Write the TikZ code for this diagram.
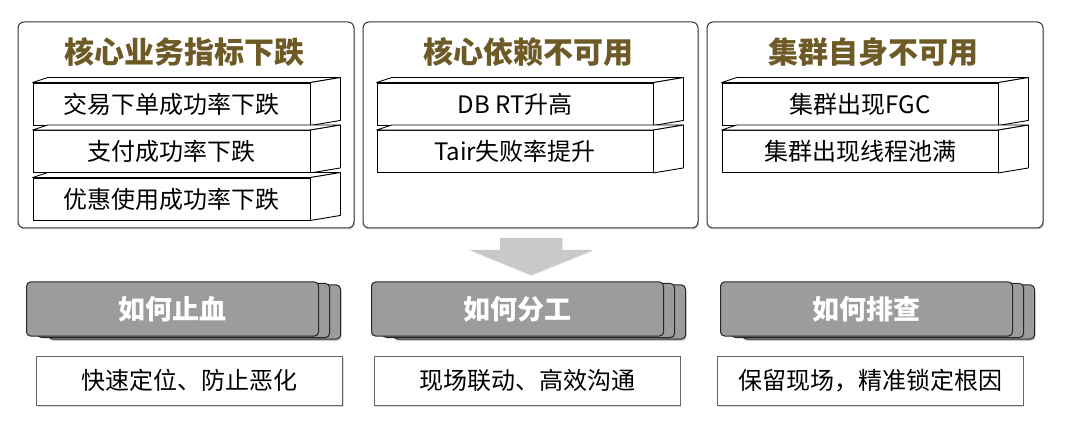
\documentclass[tikz,border=0pt]{standalone}
\usepackage{fontspec}
\setmainfont{Noto Sans CJK SC}
\usetikzlibrary{shadows}
\definecolor{titlebrown}{HTML}{6E5A26}
\definecolor{stackgray}{HTML}{9C9C9C}
\definecolor{arrowgray}{HTML}{C9C9C9}

\begin{document}
\begin{tikzpicture}[x=1pt,y=-1pt,
  panel/.style={draw=black!80,line width=1pt,rounded corners=6pt,fill=white,minimum width=336pt,minimum height=206pt,
    drop shadow={shadow xshift=1pt,shadow yshift=-1.5pt,opacity=0.3}},
  paneltitle/.style={font=\bfseries\fontsize{30}{32}\selectfont,text=titlebrown},
  slab/.style={draw=black,line width=0.9pt,fill=white,minimum width=277pt,minimum height=42pt,inner sep=0pt,
    font=\fontsize{24}{26}\selectfont},
  slabside/.style={draw=black,line width=0.9pt,fill=white,line join=round},
  stack/.style={draw=black!85,line width=1pt,rounded corners=4pt,fill=stackgray,minimum width=292pt,minimum height=54pt,inner sep=0pt},
  stacktop/.style={stack,text=white,font=\bfseries\fontsize{27}{29}\selectfont},
  answer/.style={draw=black!60,line width=0.8pt,fill=white,minimum width=306pt,minimum height=49pt,inner sep=0pt,
    font=\fontsize{24}{26}\selectfont,drop shadow={shadow xshift=1pt,shadow yshift=-1.5pt,opacity=0.3}}]
  \useasboundingbox (0,0) rectangle (1065,430);

  % top panels
  \node[panel] (p1) at (186,125) {};
  \node[panel,minimum width=335pt] (p2) at (530.5,125) {};
  \node[panel] (p3) at (875,125) {};
  \node[paneltitle] (t1) at (184,52) {核心业务指标下跌};
  \node[paneltitle] (t2) at (528.5,52) {核心依赖不可用};
  \node[paneltitle] (t3) at (873,52) {集群自身不可用};

  % slabs
  \node[slab] (a1) at (171.5,104) {交易下单成功率下跌};
  \node[slab] (a2) at (171.5,151.5) {支付成功率下跌};
  \node[slab] (a3) at (171.5,199) {优惠使用成功率下跌};
  \node[slab,minimum width=276pt] (b1) at (515,104) {DB RT升高};
  \node[slab,minimum width=276pt] (b2) at (515,151.5) {Tair失败率提升};
  \node[slab,minimum width=276pt] (c1) at (860,104) {集群出现FGC};
  \node[slab,minimum width=276pt] (c2) at (860,151.5) {集群出现线程池满};
  \foreach \n in {a1,a2,a3,b1,b2,c1,c2} {
    \draw[slabside] (\n.north west) -- ++(15,-5) -- ([shift={(30,-5)}]\n.north east) -- (\n.north east) -- cycle;
    \draw[slabside] (\n.north east) -- ([shift={(30,-5)}]\n.north east) -- ([shift={(30,-5)}]\n.south east) -- (\n.south east) -- cycle;
  }

  % arrow
  \fill[arrowgray,drop shadow={shadow xshift=0.5pt,shadow yshift=-1pt,opacity=0.2}]
    (500,238) -- (562,238) -- (562,250) -- (593,250) -- (531,275) -- (470,250) -- (500,250) -- cycle;

  % stacked headers
  \node[stack,drop shadow={shadow xshift=1pt,shadow yshift=-2pt,opacity=0.4}] (h1c) at (194.5,312) {};
  \node[stack] (h1b) at (183.5,310.5) {};
  \node[stacktop] (h1) at (172.5,309) {如何止血};
  \node[stack,drop shadow={shadow xshift=1pt,shadow yshift=-2pt,opacity=0.4}] (h2c) at (539.5,312) {};
  \node[stack] (h2b) at (528.5,310.5) {};
  \node[stacktop] (h2) at (517.5,309) {如何分工};
  \node[stack,drop shadow={shadow xshift=1pt,shadow yshift=-2pt,opacity=0.4}] (h3c) at (888.5,312) {};
  \node[stack] (h3b) at (877.5,310.5) {};
  \node[stacktop] (h3) at (866.5,309) {如何排查};

  % answers
  \node[answer] (r1) at (189.5,380.5) {快速定位、防止恶化};
  \node[answer] (r2) at (527,380.5) {现场联动、高效沟通};
  \node[answer] (r3) at (870,380.5) {保留现场，精准锁定根因};
\end{tikzpicture}
\end{document}
